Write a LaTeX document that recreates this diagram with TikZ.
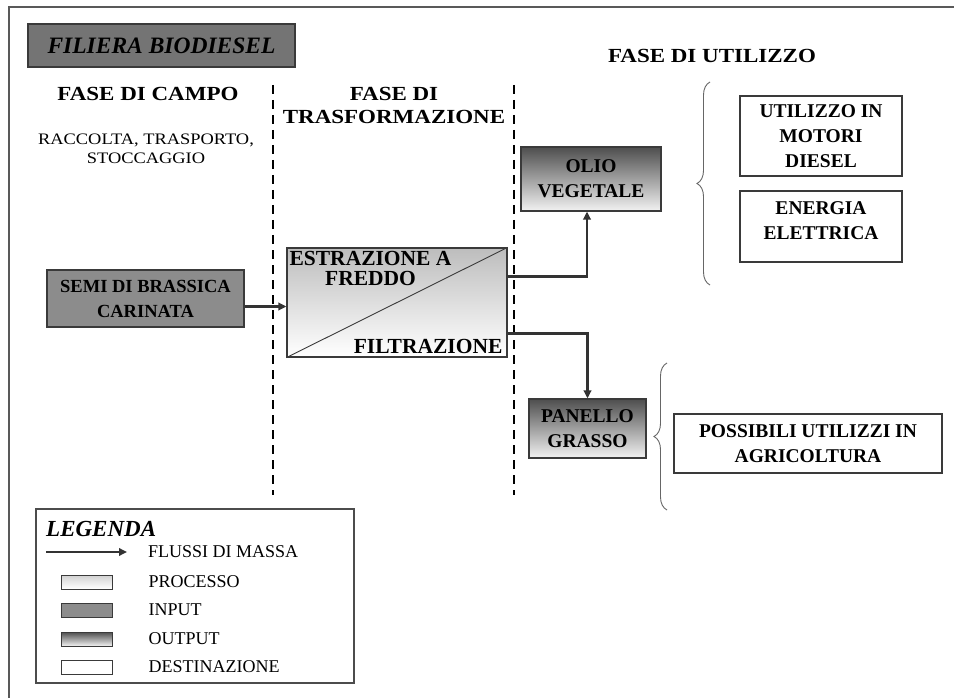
\documentclass[tikz,border=0pt]{standalone}
\usepackage{fontspec}
\setmainfont{Liberation Serif}
\newfontfamily\widefont{Liberation Serif}[FakeStretch=1.15]
\usepackage{xcolor}
\usetikzlibrary{arrows.meta,positioning,calc,decorations.pathreplacing}
\definecolor{boxline}{HTML}{3A3A3A}
\definecolor{inputgray}{HTML}{8C8C8C}
\definecolor{titlegray}{HTML}{747474}
\definecolor{outtop}{HTML}{4E4E4E}
\definecolor{outbot}{HTML}{F2F2F2}
\definecolor{proctop}{HTML}{BDBDBD}
\tikzset{
  head/.style   ={font=\widefont\bfseries\fontsize{20}{23}\selectfont,align=center,inner sep=0pt},
  sub/.style    ={font=\widefont\fontsize{16}{19}\selectfont,align=center,inner sep=0pt},
  boxbase/.style={draw=boxline,line width=1.2pt,align=center,inner sep=0pt,
                  font=\bfseries\fontsize{19.5}{25}\selectfont},
  inbox/.style  ={boxbase,fill=inputgray},
  outbox/.style ={boxbase,top color=outtop,bottom color=outbot},
  procbox/.style={boxbase,top color=proctop,bottom color=white},
  destbox/.style={boxbase,fill=white},
  swatch/.style ={draw=boxline,line width=0.9pt,minimum width=51pt,minimum height=14pt,inner sep=0pt},
  flow/.style   ={draw=black!80,line width=2.4pt,-{Triangle[length=8pt,width=7.5pt]}},
  phase/.style  ={line width=2.8pt,dash pattern=on 9pt off 6pt},
  curly/.style  ={draw=black!60,line width=0.9pt,decorate,decoration={brace,amplitude=13pt}},
  legtext/.style={font=\fontsize{18}{20}\selectfont,inner sep=0pt,anchor=west},
}
\begin{document}
\begin{tikzpicture}[x=1pt,y=-1pt]
  \useasboundingbox (0,0) rectangle (954,698);
  \draw[black!65,line width=1.2pt] (9,698) -- (9,7) -- (954,7);

  % title and phases
  \node[boxbase,fill=titlegray,minimum width=267pt,minimum height=43pt,
        font=\bfseries\itshape\fontsize{23.5}{25}\selectfont] (title) at (161.5,45.5) {FILIERA BIODIESEL};
  \node[head] (campo) at (148,93.5) {FASE DI CAMPO};
  \node[sub] (campotxt) at (146,149) {RACCOLTA, TRASPORTO,\\STOCCAGGIO};
  \node[head] (trasf) at (394,105) {FASE DI\\TRASFORMAZIONE};
  \node[head] (utilizzo) at (712,56) {FASE DI UTILIZZO};

  \coordinate (d1top) at (273,85);
  \coordinate (d1bot) at (273,495);
  \coordinate (d2top) at (514,85);
  \coordinate (d2bot) at (514,495);
  \draw[phase] (d1top) -- (d1bot);
  \draw[phase] (d2top) -- (d2bot);

  % boxes
  \node[inbox,minimum width=197pt,minimum height=57pt,font=\bfseries\fontsize{18.5}{25}\selectfont]
        (semi) at (145.5,298.5) {SEMI DI BRASSICA\\CARINATA};
  \node[procbox,minimum width=220pt,minimum height=109pt] (estr) at (397,302.5) {};
  \draw[boxline,line width=0.9pt] (estr.south west) -- (estr.north east);
  \node[font=\bfseries\fontsize{21.5}{20}\selectfont,align=center,inner sep=0pt,anchor=north west]
        (estrtxt) at ([shift={(3pt,-4pt)}]estr.north west) {ESTRAZIONE A\\FREDDO};
  \node[font=\bfseries\fontsize{21.5}{20}\selectfont,inner sep=0pt,anchor=south east]
        (filtrtxt) at ([shift={(-5pt,4pt)}]estr.south east) {FILTRAZIONE};
  \node[outbox,minimum width=140pt,minimum height=64pt] (olio) at (591,179) {OLIO\\VEGETALE};
  \node[outbox,minimum width=117pt,minimum height=59pt] (panello) at (587.5,428.5) {PANELLO\\GRASSO};
  \node[destbox,minimum width=162pt,minimum height=80pt] (motori) at (821,136) {UTILIZZO IN\\MOTORI\\DIESEL};
  \node[destbox,minimum width=162pt,minimum height=71pt,text depth=12pt] (energia) at (821,226.5) {ENERGIA\\ELETTRICA};
  \node[destbox,minimum width=268pt,minimum height=59pt] (agri) at (808,443.5) {POSSIBILI UTILIZZI IN\\AGRICOLTURA};

  % flows
  \draw[flow] ([yshift=-8pt]semi.east) -- ([yshift=-8pt]semi.east -| estr.west);
  \draw[flow] ([yshift=-29pt]estr.north east) -| ([xshift=-4pt]olio.south);
  \draw[flow] ([yshift=24pt]estr.south east) -| (panello.north);

  \draw[curly] (710,285) -- (710,82);
  \draw[curly] (667,510) -- (667,363);

  % legend
  \node[draw=black!70,line width=1.2pt,minimum width=318pt,minimum height=174pt,inner sep=0pt] (legend) at (195,596) {};
  \node[font=\bfseries\itshape\fontsize{23}{24}\selectfont,inner sep=0pt,anchor=west] (legtitle) at (46,529) {LEGENDA};
  \coordinate (lgA) at (46,552);
  \coordinate (lgB) at (127,552);
  \draw[flow,line width=1.8pt] (lgA) -- (lgB);
  \node[legtext,right=21pt of lgB] (lgflow) {FLUSSI DI MASSA};
  \node[swatch,top color=proctop!70,bottom color=white] (swproc) at (86.5,582) {};
  \node[legtext,right=36pt of swproc] (lgproc) {PROCESSO};
  \node[swatch,fill=inputgray] (swin) at (86.5,610) {};
  \node[legtext,right=36pt of swin] (lgin) {INPUT};
  \node[swatch,top color=outtop,bottom color=outbot] (swout) at (86.5,639) {};
  \node[legtext,right=36pt of swout] (lgout) {OUTPUT};
  \node[swatch,fill=white] (swdest) at (86.5,667) {};
  \node[legtext,right=36pt of swdest] (lgdest) {DESTINAZIONE};
\end{tikzpicture}
\end{document}
